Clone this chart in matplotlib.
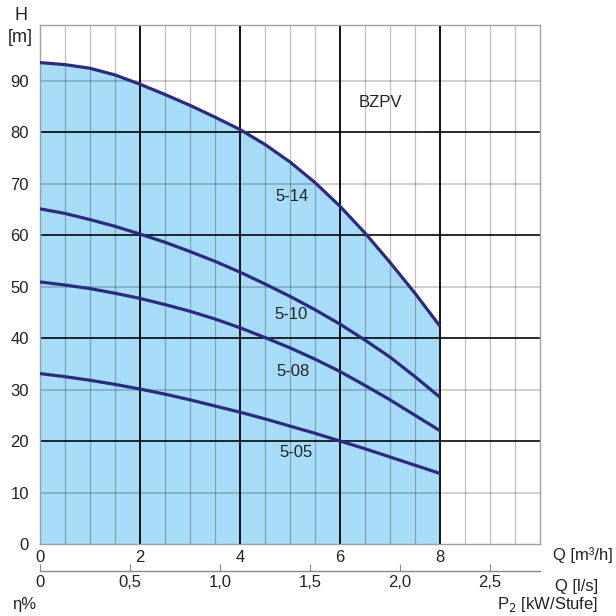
import matplotlib
matplotlib.use("Agg")
import matplotlib.pyplot as plt

plt.rcParams['font.family'] = ['Liberation Sans', 'DejaVu Sans']

# ---- data ----
q_m3h = [0, 0.5, 1, 1.5, 2, 2.5, 3, 3.5, 4, 4.5, 5, 5.5, 6, 6.5, 7, 7.5, 8]
h_514 = [93.5, 93.1, 92.4, 91.1, 89.3, 87.3, 85.2, 82.9, 80.5, 77.6, 74.2, 70.2, 65.6, 60.4, 54.7, 48.7, 42.3]
h_510 = [65.1, 64.2, 63.0, 61.7, 60.2, 58.6, 56.8, 54.9, 52.8, 50.5, 48.1, 45.5, 42.7, 39.6, 36.3, 32.5, 28.5]
h_508 = [50.9, 50.3, 49.6, 48.7, 47.7, 46.5, 45.2, 43.7, 42.0, 40.1, 38.1, 35.9, 33.5, 30.8, 28.0, 25.0, 22.0]
h_505 = [33.1, 32.5, 31.8, 31.0, 30.1, 29.1, 28.0, 26.8, 25.6, 24.3, 22.9, 21.5, 20.0, 18.5, 16.9, 15.3, 13.7]
curve_labels = ["5-14", "5-10", "5-08", "5-05"]
series_title = "BZPV"

x_ticks = [0, 2, 4, 6, 8]
y_ticks = [0, 10, 20, 30, 40, 50, 60, 70, 80, 90]
ls_ticks = [0, 0.5, 1.0, 1.5, 2.0, 2.5]
ls_labels = ["0", "0,5", "1,0", "1,5", "2,0", "2,5"]

W = H = 616
fig = plt.figure(figsize=(W / 100, H / 100), dpi=100)
ax = fig.add_axes([40 / W, 1 - 544 / H, 500 / W, 519 / H])
ax.set_xlim(0, 10)
ax.set_ylim(0, 100.8)

FILL = '#a6dcf7'
LINE = '#2b2a80'
TXT = '#222222'

ax.fill_between(q_m3h, 0, h_514, color=FILL, lw=0, zorder=1)

# grid
for i in range(1, 20):
    xv = i * 0.5
    if xv in (2, 4, 6, 8):
        ax.axvline(xv, color='black', lw=1.3, zorder=2)
    else:
        ax.axvline(xv, color='black', alpha=0.25, lw=0.9, zorder=2)
for yv in range(10, 100, 10):
    if yv % 20 == 0:
        ax.axhline(yv, color='black', alpha=0.9, lw=1.3, zorder=2)
    else:
        ax.axhline(yv, color='black', alpha=0.22, lw=1.2, zorder=2)

for hh in (h_514, h_510, h_508, h_505):
    ax.plot(q_m3h, hh, color=LINE, lw=2.3, solid_capstyle='butt', zorder=4)

fs = 12
ax.text(5.04, 67.4, curve_labels[0], ha='center', va='center', fontsize=fs, color=TXT, zorder=5)
ax.text(5.03, 44.6, curve_labels[1], ha='center', va='center', fontsize=fs, color=TXT, zorder=5)
ax.text(5.07, 33.6, curve_labels[2], ha='center', va='center', fontsize=fs, color=TXT, zorder=5)
ax.text(5.13, 17.8, curve_labels[3], ha='center', va='center', fontsize=fs, color=TXT, zorder=5)
ax.text(6.8, 85.7, series_title, ha='center', va='center', fontsize=fs, color=TXT, zorder=5)

ax.set_xticks(x_ticks)
ax.set_xticklabels([str(v) for v in x_ticks])
ax.set_yticks(y_ticks)
ax.set_yticklabels([str(v) for v in y_ticks])
ax.tick_params(axis='both', length=0, labelsize=fs, colors=TXT)
ax.tick_params(axis='x', pad=4)
ax.tick_params(axis='y', pad=8)
for s in ax.spines.values():
    s.set_color('#a0a0a0')
    s.set_linewidth(1.0)
    s.set_zorder(3)

# secondary axis (l/s)
ax2 = fig.add_axes([40 / W, 1 - 570.7 / H, 500 / W, 0.0001])
ax2.set_xlim(0, 10 / 3.6)
ax2.set_ylim(0, 1)
ax2.patch.set_visible(False)
for k in ('top', 'left', 'right'):
    ax2.spines[k].set_visible(False)
ax2.spines['bottom'].set_color('#888888')
ax2.spines['bottom'].set_linewidth(1.0)
ax2.set_yticks([])
ax2.set_xticks(ls_ticks)
ax2.set_xticklabels(ls_labels)
ax2.tick_params(axis='x', direction='in', length=5, width=0.8, color='#888888',
                labelsize=fs, labelcolor=TXT, pad=3)

# axis titles
fig.text(20.7 / W, 1 - 15 / H, "H", ha='center', va='center', fontsize=13, color=TXT)
fig.text(20.7 / W, 1 - 37 / H, "[m]", ha='center', va='center', fontsize=13, color=TXT)
fig.text(613 / W, 1 - 555 / H, "Q [m³/h]", ha='right', va='center', fontsize=fs, color=TXT)
fig.text(598 / W, 1 - 586 / H, "Q [l/s]", ha='right', va='center', fontsize=fs, color=TXT)
fig.text(12 / W, 1 - 604 / H, "η%", ha='left', va='center', fontsize=fs, color=TXT)
fig.text(598 / W, 1 - 604 / H, "P$_2$ [kW/Stufe]", ha='right', va='center', fontsize=fs, color=TXT)

fig.savefig("out.png", dpi=100)
